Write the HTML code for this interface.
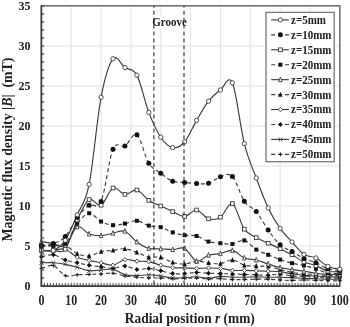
<!DOCTYPE html>
<html><head><meta charset="utf-8"><style>
html,body{margin:0;padding:0;background:#fff;width:350px;height:327px;overflow:hidden}
svg{display:block;filter:blur(0.45px)}
text{font-family:"Liberation Serif",serif;font-weight:bold;fill:#222}
</style></head><body>
<svg width="350" height="327" viewBox="0 0 350 327">
<path d="M71.24,5.8 V286.2 M101.08,5.8 V286.2 M130.92,5.8 V286.2 M160.76,5.8 V286.2 M190.60,5.8 V286.2 M220.44,5.8 V286.2 M250.28,5.8 V286.2 M280.12,5.8 V286.2 M309.96,5.8 V286.2 M41.4,246.00 H339.8 M41.4,206.00 H339.8 M41.4,166.00 H339.8 M41.4,126.00 H339.8 M41.4,86.00 H339.8 M41.4,46.00 H339.8" stroke="#e2e2e2" stroke-width="1" fill="none"/>
<rect x="41.4" y="5.8" width="298.4" height="280.4" fill="none" stroke="#6a6a6a" stroke-width="1.5"/>
<rect x="152" y="15" width="35" height="12" fill="#fff"/>
<text transform="translate(169.6,25.7) scale(1,1.15)" text-anchor="middle" font-size="11">Groove</text>
<path d="M41.40,268.40 C43.39,267.93 49.36,264.40 53.34,265.60 C57.31,266.80 61.29,274.07 65.27,275.60 C69.25,277.13 73.23,275.00 77.21,274.80 C81.19,274.60 85.17,274.53 89.14,274.40 C93.12,274.27 97.10,274.20 101.08,274.00 C105.06,273.80 109.04,272.87 113.02,273.20 C116.99,273.53 120.97,275.33 124.95,276.00 C128.93,276.67 132.91,276.87 136.89,277.20 C140.87,277.53 144.85,277.87 148.82,278.00 C152.80,278.13 156.78,277.87 160.76,278.00 C164.74,278.13 168.72,278.73 172.70,278.80 C176.67,278.87 180.65,278.53 184.63,278.40 C188.61,278.27 192.59,277.93 196.57,278.00 C200.55,278.07 204.53,278.67 208.50,278.80 C212.48,278.93 216.46,278.67 220.44,278.80 C224.42,278.93 228.40,279.47 232.38,279.60 C236.35,279.73 240.33,279.67 244.31,279.60 C248.29,279.53 252.27,279.27 256.25,279.20 C260.23,279.13 264.21,279.07 268.18,279.20 C272.16,279.33 276.14,279.80 280.12,280.00 C284.10,280.20 288.08,280.40 292.06,280.40 C296.03,280.40 300.01,280.00 303.99,280.00 C307.97,280.00 311.95,280.27 315.93,280.40 C319.91,280.53 323.89,280.73 327.86,280.80 C331.84,280.87 337.81,280.80 339.80,280.80" stroke="#3c3c3c" stroke-width="1.15" fill="none" stroke-dasharray="4,2.9"/>
<path d="M41.40,262.80 C43.39,262.80 49.36,262.53 53.34,262.80 C57.31,263.07 61.29,263.67 65.27,264.40 C69.25,265.13 73.23,266.13 77.21,267.20 C81.19,268.27 85.17,270.33 89.14,270.80 C93.12,271.27 97.10,270.27 101.08,270.00 C105.06,269.73 109.04,268.40 113.02,269.20 C116.99,270.00 120.97,273.73 124.95,274.80 C128.93,275.87 132.91,275.60 136.89,275.60 C140.87,275.60 144.85,274.73 148.82,274.80 C152.80,274.87 156.78,275.47 160.76,276.00 C164.74,276.53 168.72,277.73 172.70,278.00 C176.67,278.27 180.65,277.80 184.63,277.60 C188.61,277.40 192.59,276.67 196.57,276.80 C200.55,276.93 204.53,278.47 208.50,278.40 C212.48,278.33 216.46,276.60 220.44,276.40 C224.42,276.20 228.40,277.07 232.38,277.20 C236.35,277.33 240.33,277.27 244.31,277.20 C248.29,277.13 252.27,276.80 256.25,276.80 C260.23,276.80 264.21,277.13 268.18,277.20 C272.16,277.27 276.14,277.13 280.12,277.20 C284.10,277.27 288.08,277.40 292.06,277.60 C296.03,277.80 300.01,278.20 303.99,278.40 C307.97,278.60 311.95,278.67 315.93,278.80 C319.91,278.93 323.89,279.13 327.86,279.20 C331.84,279.27 337.81,279.20 339.80,279.20" stroke="#3c3c3c" stroke-width="1.15" fill="none"/>
<path d="M41.40,256.80 C43.39,256.47 49.36,254.27 53.34,254.80 C57.31,255.33 61.29,258.67 65.27,260.00 C69.25,261.33 73.23,261.93 77.21,262.80 C81.19,263.67 85.17,264.53 89.14,265.20 C93.12,265.87 97.10,266.27 101.08,266.80 C105.06,267.33 109.04,268.53 113.02,268.40 C116.99,268.27 120.97,265.80 124.95,266.00 C128.93,266.20 132.91,269.20 136.89,269.60 C140.87,270.00 144.85,268.20 148.82,268.40 C152.80,268.60 156.78,269.93 160.76,270.80 C164.74,271.67 168.72,273.13 172.70,273.60 C176.67,274.07 180.65,273.80 184.63,273.60 C188.61,273.40 192.59,272.47 196.57,272.40 C200.55,272.33 204.53,273.00 208.50,273.20 C212.48,273.40 216.46,273.47 220.44,273.60 C224.42,273.73 228.40,273.87 232.38,274.00 C236.35,274.13 240.33,274.27 244.31,274.40 C248.29,274.53 252.27,274.67 256.25,274.80 C260.23,274.93 264.21,275.33 268.18,275.20 C272.16,275.07 276.14,273.87 280.12,274.00 C284.10,274.13 288.08,275.60 292.06,276.00 C296.03,276.40 300.01,276.20 303.99,276.40 C307.97,276.60 311.95,276.93 315.93,277.20 C319.91,277.47 323.89,277.87 327.86,278.00 C331.84,278.13 337.81,278.00 339.80,278.00" stroke="#3c3c3c" stroke-width="1.15" fill="none" stroke-dasharray="4,2.9"/>
<path d="M41.40,250.80 C43.39,250.73 49.36,250.67 53.34,250.40 C57.31,250.13 61.29,248.07 65.27,249.20 C69.25,250.33 73.23,255.33 77.21,257.20 C81.19,259.07 85.17,259.47 89.14,260.40 C93.12,261.33 97.10,262.00 101.08,262.80 C105.06,263.60 109.04,265.73 113.02,265.20 C116.99,264.67 120.97,260.27 124.95,259.60 C128.93,258.93 132.91,260.87 136.89,261.20 C140.87,261.53 144.85,260.93 148.82,261.60 C152.80,262.27 156.78,264.20 160.76,265.20 C164.74,266.20 168.72,267.13 172.70,267.60 C176.67,268.07 180.65,267.87 184.63,268.00 C188.61,268.13 192.59,268.40 196.57,268.40 C200.55,268.40 204.53,268.00 208.50,268.00 C212.48,268.00 216.46,268.00 220.44,268.40 C224.42,268.80 228.40,270.07 232.38,270.40 C236.35,270.73 240.33,270.33 244.31,270.40 C248.29,270.47 252.27,270.67 256.25,270.80 C260.23,270.93 264.21,271.07 268.18,271.20 C272.16,271.33 276.14,271.13 280.12,271.60 C284.10,272.07 288.08,273.40 292.06,274.00 C296.03,274.60 300.01,274.87 303.99,275.20 C307.97,275.53 311.95,275.73 315.93,276.00 C319.91,276.27 323.89,276.67 327.86,276.80 C331.84,276.93 337.81,276.80 339.80,276.80" stroke="#3c3c3c" stroke-width="1.15" fill="none"/>
<path d="M41.40,246.00 C43.39,245.93 49.36,245.67 53.34,245.60 C57.31,245.53 61.29,244.27 65.27,245.60 C69.25,246.93 73.23,251.87 77.21,253.60 C81.19,255.33 85.17,256.33 89.14,256.00 C93.12,255.67 97.10,252.53 101.08,251.60 C105.06,250.67 109.04,250.87 113.02,250.40 C116.99,249.93 120.97,248.47 124.95,248.80 C128.93,249.13 132.91,251.00 136.89,252.40 C140.87,253.80 144.85,256.40 148.82,257.20 C152.80,258.00 156.78,256.33 160.76,257.20 C164.74,258.07 168.72,261.27 172.70,262.40 C176.67,263.53 180.65,264.20 184.63,264.00 C188.61,263.80 192.59,261.40 196.57,261.20 C200.55,261.00 204.53,262.40 208.50,262.80 C212.48,263.20 216.46,264.07 220.44,263.60 C224.42,263.13 228.40,259.73 232.38,260.00 C236.35,260.27 240.33,264.20 244.31,265.20 C248.29,266.20 252.27,265.80 256.25,266.00 C260.23,266.20 264.21,265.80 268.18,266.40 C272.16,267.00 276.14,268.60 280.12,269.60 C284.10,270.60 288.08,271.67 292.06,272.40 C296.03,273.13 300.01,273.67 303.99,274.00 C307.97,274.33 311.95,274.13 315.93,274.40 C319.91,274.67 323.89,275.40 327.86,275.60 C331.84,275.80 337.81,275.60 339.80,275.60" stroke="#3c3c3c" stroke-width="1.15" fill="none" stroke-dasharray="4,2.9"/>
<path d="M41.40,241.60 C43.39,241.93 49.36,242.87 53.34,243.60 C57.31,244.33 61.29,248.80 65.27,246.00 C69.25,243.20 73.23,228.80 77.21,226.80 C81.19,224.80 85.17,232.53 89.14,234.00 C93.12,235.47 97.10,235.73 101.08,235.60 C105.06,235.47 109.04,233.93 113.02,233.20 C116.99,232.47 120.97,229.73 124.95,231.20 C128.93,232.67 132.91,239.13 136.89,242.00 C140.87,244.87 144.85,247.27 148.82,248.40 C152.80,249.53 156.78,248.60 160.76,248.80 C164.74,249.00 168.72,249.67 172.70,249.60 C176.67,249.53 180.65,246.47 184.63,248.40 C188.61,250.33 192.59,260.07 196.57,261.20 C200.55,262.33 204.53,256.47 208.50,255.20 C212.48,253.93 216.46,254.40 220.44,253.60 C224.42,252.80 228.40,249.67 232.38,250.40 C236.35,251.13 240.33,256.40 244.31,258.00 C248.29,259.60 252.27,259.00 256.25,260.00 C260.23,261.00 264.21,262.73 268.18,264.00 C272.16,265.27 276.14,266.67 280.12,267.60 C284.10,268.53 288.08,269.00 292.06,269.60 C296.03,270.20 300.01,270.60 303.99,271.20 C307.97,271.80 311.95,272.67 315.93,273.20 C319.91,273.73 323.89,274.20 327.86,274.40 C331.84,274.60 337.81,274.40 339.80,274.40" stroke="#3c3c3c" stroke-width="1.15" fill="none"/>
<path d="M41.40,246.00 C43.39,245.93 49.36,246.00 53.34,245.60 C57.31,245.20 61.29,247.27 65.27,243.60 C69.25,239.93 73.23,228.67 77.21,223.60 C81.19,218.53 85.17,213.55 89.14,213.20 C93.12,212.85 97.10,219.52 101.08,221.52 C105.06,223.52 109.04,224.85 113.02,225.20 C116.99,225.55 120.97,224.33 124.95,223.60 C128.93,222.87 132.91,220.47 136.89,220.80 C140.87,221.13 144.85,224.53 148.82,225.60 C152.80,226.67 156.78,226.07 160.76,227.20 C164.74,228.33 168.72,231.07 172.70,232.40 C176.67,233.73 180.65,234.60 184.63,235.20 C188.61,235.80 192.59,234.93 196.57,236.00 C200.55,237.07 204.53,240.40 208.50,241.60 C212.48,242.80 216.46,242.80 220.44,243.20 C224.42,243.60 228.40,244.47 232.38,244.00 C236.35,243.53 240.33,239.47 244.31,240.40 C248.29,241.33 252.27,247.20 256.25,249.60 C260.23,252.00 264.21,253.13 268.18,254.80 C272.16,256.47 276.14,258.20 280.12,259.60 C284.10,261.00 288.08,262.20 292.06,263.20 C296.03,264.20 300.01,264.67 303.99,265.60 C307.97,266.53 311.95,267.53 315.93,268.80 C319.91,270.07 323.89,272.47 327.86,273.20 C331.84,273.93 337.81,273.20 339.80,273.20" stroke="#3c3c3c" stroke-width="1.15" fill="none" stroke-dasharray="4,2.9"/>
<path d="M41.40,250.40 C43.39,250.40 49.36,250.60 53.34,250.40 C57.31,250.20 61.29,254.27 65.27,249.20 C69.25,244.13 73.23,228.27 77.21,220.00 C81.19,211.73 85.17,202.07 89.14,199.60 C93.12,197.13 97.10,207.13 101.08,205.20 C105.06,203.27 109.04,189.80 113.02,188.00 C116.99,186.20 120.97,194.07 124.95,194.40 C128.93,194.73 132.91,189.00 136.89,190.00 C140.87,191.00 144.85,197.73 148.82,200.40 C152.80,203.07 156.78,204.13 160.76,206.00 C164.74,207.87 168.72,209.87 172.70,211.60 C176.67,213.33 180.65,216.67 184.63,216.40 C188.61,216.13 192.59,209.60 196.57,210.00 C200.55,210.40 204.53,217.60 208.50,218.80 C212.48,220.00 216.46,219.73 220.44,217.20 C224.42,214.67 228.40,201.60 232.38,203.60 C236.35,205.60 240.33,223.53 244.31,229.20 C248.29,234.87 252.27,235.27 256.25,237.60 C260.23,239.93 264.21,241.33 268.18,243.20 C272.16,245.07 276.14,246.87 280.12,248.80 C284.10,250.73 288.08,252.60 292.06,254.80 C296.03,257.00 300.01,260.20 303.99,262.00 C307.97,263.80 311.95,264.07 315.93,265.60 C319.91,267.13 323.89,270.20 327.86,271.20 C331.84,272.20 337.81,271.53 339.80,271.60" stroke="#3c3c3c" stroke-width="1.15" fill="none"/>
<path d="M41.40,245.60 C43.39,245.27 49.36,245.13 53.34,243.60 C57.31,242.07 61.29,240.73 65.27,236.40 C69.25,232.07 73.23,222.80 77.21,217.60 C81.19,212.40 85.17,207.87 89.14,205.20 C93.12,202.53 97.10,210.93 101.08,201.60 C105.06,192.27 109.04,158.47 113.02,149.20 C116.99,139.93 120.97,148.40 124.95,146.00 C128.93,143.60 132.91,131.93 136.89,134.80 C140.87,137.67 144.85,156.80 148.82,163.20 C152.80,169.60 156.78,170.20 160.76,173.20 C164.74,176.20 168.72,179.67 172.70,181.20 C176.67,182.73 180.65,182.00 184.63,182.40 C188.61,182.80 192.59,183.47 196.57,183.60 C200.55,183.73 204.53,184.33 208.50,183.20 C212.48,182.07 216.46,177.93 220.44,176.80 C224.42,175.67 228.40,172.33 232.38,176.40 C236.35,180.47 240.33,195.33 244.31,201.20 C248.29,207.07 252.27,206.80 256.25,211.60 C260.23,216.40 264.21,224.47 268.18,230.00 C272.16,235.53 276.14,241.20 280.12,244.80 C284.10,248.40 288.08,249.33 292.06,251.60 C296.03,253.87 300.01,256.53 303.99,258.40 C307.97,260.27 311.95,261.07 315.93,262.80 C319.91,264.53 323.89,267.53 327.86,268.80 C331.84,270.07 337.81,270.13 339.80,270.40" stroke="#3c3c3c" stroke-width="1.15" fill="none" stroke-dasharray="4,2.9"/>
<path d="M41.40,250.40 C43.39,250.40 49.36,252.07 53.34,250.40 C57.31,248.73 61.29,246.33 65.27,240.40 C69.25,234.47 73.23,224.13 77.21,214.80 C81.19,205.47 85.17,204.00 89.14,184.40 C93.12,164.80 97.10,118.13 101.08,97.20 C105.06,76.27 109.04,63.73 113.02,58.80 C116.99,53.87 120.97,64.88 124.95,67.60 C128.93,70.32 132.91,67.65 136.89,75.12 C140.87,82.59 144.85,102.05 148.82,112.40 C152.80,122.75 156.78,131.33 160.76,137.20 C164.74,143.07 168.72,146.80 172.70,147.60 C176.67,148.40 180.65,146.53 184.63,142.00 C188.61,137.47 192.59,127.20 196.57,120.40 C200.55,113.60 204.53,106.27 208.50,101.20 C212.48,96.13 216.46,93.07 220.44,90.00 C224.42,86.93 228.40,73.87 232.38,82.80 C236.35,91.73 240.33,127.73 244.31,143.60 C248.29,159.47 252.27,167.27 256.25,178.00 C260.23,188.73 264.21,199.60 268.18,208.00 C272.16,216.40 276.14,222.73 280.12,228.40 C284.10,234.07 288.08,237.67 292.06,242.00 C296.03,246.33 300.01,251.73 303.99,254.40 C307.97,257.07 311.95,256.00 315.93,258.00 C319.91,260.00 323.89,264.53 327.86,266.40 C331.84,268.27 337.81,268.73 339.80,269.20" stroke="#3c3c3c" stroke-width="1.15" fill="none"/>
<path d="M39.50,268.40 L43.30,268.40 M41.40,266.50 L41.40,270.30" stroke="#111" stroke-width="1"/>
<path d="M51.44,265.60 L55.24,265.60 M53.34,263.70 L53.34,267.50" stroke="#111" stroke-width="1"/>
<path d="M63.37,275.60 L67.17,275.60 M65.27,273.70 L65.27,277.50" stroke="#111" stroke-width="1"/>
<path d="M75.31,274.80 L79.11,274.80 M77.21,272.90 L77.21,276.70" stroke="#111" stroke-width="1"/>
<path d="M87.24,274.40 L91.04,274.40 M89.14,272.50 L89.14,276.30" stroke="#111" stroke-width="1"/>
<path d="M99.18,274.00 L102.98,274.00 M101.08,272.10 L101.08,275.90" stroke="#111" stroke-width="1"/>
<path d="M111.12,273.20 L114.92,273.20 M113.02,271.30 L113.02,275.10" stroke="#111" stroke-width="1"/>
<path d="M123.05,276.00 L126.85,276.00 M124.95,274.10 L124.95,277.90" stroke="#111" stroke-width="1"/>
<path d="M134.99,277.20 L138.79,277.20 M136.89,275.30 L136.89,279.10" stroke="#111" stroke-width="1"/>
<path d="M146.92,278.00 L150.72,278.00 M148.82,276.10 L148.82,279.90" stroke="#111" stroke-width="1"/>
<path d="M158.86,278.00 L162.66,278.00 M160.76,276.10 L160.76,279.90" stroke="#111" stroke-width="1"/>
<path d="M170.80,278.80 L174.60,278.80 M172.70,276.90 L172.70,280.70" stroke="#111" stroke-width="1"/>
<path d="M182.73,278.40 L186.53,278.40 M184.63,276.50 L184.63,280.30" stroke="#111" stroke-width="1"/>
<path d="M194.67,278.00 L198.47,278.00 M196.57,276.10 L196.57,279.90" stroke="#111" stroke-width="1"/>
<path d="M206.60,278.80 L210.40,278.80 M208.50,276.90 L208.50,280.70" stroke="#111" stroke-width="1"/>
<path d="M218.54,278.80 L222.34,278.80 M220.44,276.90 L220.44,280.70" stroke="#111" stroke-width="1"/>
<path d="M230.48,279.60 L234.28,279.60 M232.38,277.70 L232.38,281.50" stroke="#111" stroke-width="1"/>
<path d="M242.41,279.60 L246.21,279.60 M244.31,277.70 L244.31,281.50" stroke="#111" stroke-width="1"/>
<path d="M254.35,279.20 L258.15,279.20 M256.25,277.30 L256.25,281.10" stroke="#111" stroke-width="1"/>
<path d="M266.28,279.20 L270.08,279.20 M268.18,277.30 L268.18,281.10" stroke="#111" stroke-width="1"/>
<path d="M278.22,280.00 L282.02,280.00 M280.12,278.10 L280.12,281.90" stroke="#111" stroke-width="1"/>
<path d="M290.16,280.40 L293.96,280.40 M292.06,278.50 L292.06,282.30" stroke="#111" stroke-width="1"/>
<path d="M302.09,280.00 L305.89,280.00 M303.99,278.10 L303.99,281.90" stroke="#111" stroke-width="1"/>
<path d="M314.03,280.40 L317.83,280.40 M315.93,278.50 L315.93,282.30" stroke="#111" stroke-width="1"/>
<path d="M325.96,280.80 L329.76,280.80 M327.86,278.90 L327.86,282.70" stroke="#111" stroke-width="1"/>
<path d="M337.90,280.80 L341.70,280.80 M339.80,278.90 L339.80,282.70" stroke="#111" stroke-width="1"/>
<path d="M39.40,260.80 L43.40,264.80 M39.40,264.80 L43.40,260.80" stroke="#333" stroke-width="0.8"/>
<path d="M51.34,260.80 L55.34,264.80 M51.34,264.80 L55.34,260.80" stroke="#333" stroke-width="0.8"/>
<path d="M63.27,262.40 L67.27,266.40 M63.27,266.40 L67.27,262.40" stroke="#333" stroke-width="0.8"/>
<path d="M75.21,265.20 L79.21,269.20 M75.21,269.20 L79.21,265.20" stroke="#333" stroke-width="0.8"/>
<path d="M87.14,268.80 L91.14,272.80 M87.14,272.80 L91.14,268.80" stroke="#333" stroke-width="0.8"/>
<path d="M99.08,268.00 L103.08,272.00 M99.08,272.00 L103.08,268.00" stroke="#333" stroke-width="0.8"/>
<path d="M111.02,267.20 L115.02,271.20 M111.02,271.20 L115.02,267.20" stroke="#333" stroke-width="0.8"/>
<path d="M122.95,272.80 L126.95,276.80 M122.95,276.80 L126.95,272.80" stroke="#333" stroke-width="0.8"/>
<path d="M134.89,273.60 L138.89,277.60 M134.89,277.60 L138.89,273.60" stroke="#333" stroke-width="0.8"/>
<path d="M146.82,272.80 L150.82,276.80 M146.82,276.80 L150.82,272.80" stroke="#333" stroke-width="0.8"/>
<path d="M158.76,274.00 L162.76,278.00 M158.76,278.00 L162.76,274.00" stroke="#333" stroke-width="0.8"/>
<path d="M170.70,276.00 L174.70,280.00 M170.70,280.00 L174.70,276.00" stroke="#333" stroke-width="0.8"/>
<path d="M182.63,275.60 L186.63,279.60 M182.63,279.60 L186.63,275.60" stroke="#333" stroke-width="0.8"/>
<path d="M194.57,274.80 L198.57,278.80 M194.57,278.80 L198.57,274.80" stroke="#333" stroke-width="0.8"/>
<path d="M206.50,276.40 L210.50,280.40 M206.50,280.40 L210.50,276.40" stroke="#333" stroke-width="0.8"/>
<path d="M218.44,274.40 L222.44,278.40 M218.44,278.40 L222.44,274.40" stroke="#333" stroke-width="0.8"/>
<path d="M230.38,275.20 L234.38,279.20 M230.38,279.20 L234.38,275.20" stroke="#333" stroke-width="0.8"/>
<path d="M242.31,275.20 L246.31,279.20 M242.31,279.20 L246.31,275.20" stroke="#333" stroke-width="0.8"/>
<path d="M254.25,274.80 L258.25,278.80 M254.25,278.80 L258.25,274.80" stroke="#333" stroke-width="0.8"/>
<path d="M266.18,275.20 L270.18,279.20 M266.18,279.20 L270.18,275.20" stroke="#333" stroke-width="0.8"/>
<path d="M278.12,275.20 L282.12,279.20 M278.12,279.20 L282.12,275.20" stroke="#333" stroke-width="0.8"/>
<path d="M290.06,275.60 L294.06,279.60 M290.06,279.60 L294.06,275.60" stroke="#333" stroke-width="0.8"/>
<path d="M301.99,276.40 L305.99,280.40 M301.99,280.40 L305.99,276.40" stroke="#333" stroke-width="0.8"/>
<path d="M313.93,276.80 L317.93,280.80 M313.93,280.80 L317.93,276.80" stroke="#333" stroke-width="0.8"/>
<path d="M325.86,277.20 L329.86,281.20 M325.86,281.20 L329.86,277.20" stroke="#333" stroke-width="0.8"/>
<path d="M337.80,277.20 L341.80,281.20 M337.80,281.20 L341.80,277.20" stroke="#333" stroke-width="0.8"/>
<polygon points="41.40,254.30 43.70,256.80 41.40,259.30 39.10,256.80" fill="#111"/>
<polygon points="53.34,252.30 55.64,254.80 53.34,257.30 51.04,254.80" fill="#111"/>
<polygon points="65.27,257.50 67.57,260.00 65.27,262.50 62.97,260.00" fill="#111"/>
<polygon points="77.21,260.30 79.51,262.80 77.21,265.30 74.91,262.80" fill="#111"/>
<polygon points="89.14,262.70 91.44,265.20 89.14,267.70 86.84,265.20" fill="#111"/>
<polygon points="101.08,264.30 103.38,266.80 101.08,269.30 98.78,266.80" fill="#111"/>
<polygon points="113.02,265.90 115.32,268.40 113.02,270.90 110.72,268.40" fill="#111"/>
<polygon points="124.95,263.50 127.25,266.00 124.95,268.50 122.65,266.00" fill="#111"/>
<polygon points="136.89,267.10 139.19,269.60 136.89,272.10 134.59,269.60" fill="#111"/>
<polygon points="148.82,265.90 151.12,268.40 148.82,270.90 146.52,268.40" fill="#111"/>
<polygon points="160.76,268.30 163.06,270.80 160.76,273.30 158.46,270.80" fill="#111"/>
<polygon points="172.70,271.10 175.00,273.60 172.70,276.10 170.40,273.60" fill="#111"/>
<polygon points="184.63,271.10 186.93,273.60 184.63,276.10 182.33,273.60" fill="#111"/>
<polygon points="196.57,269.90 198.87,272.40 196.57,274.90 194.27,272.40" fill="#111"/>
<polygon points="208.50,270.70 210.80,273.20 208.50,275.70 206.20,273.20" fill="#111"/>
<polygon points="220.44,271.10 222.74,273.60 220.44,276.10 218.14,273.60" fill="#111"/>
<polygon points="232.38,271.50 234.68,274.00 232.38,276.50 230.08,274.00" fill="#111"/>
<polygon points="244.31,271.90 246.61,274.40 244.31,276.90 242.01,274.40" fill="#111"/>
<polygon points="256.25,272.30 258.55,274.80 256.25,277.30 253.95,274.80" fill="#111"/>
<polygon points="268.18,272.70 270.48,275.20 268.18,277.70 265.88,275.20" fill="#111"/>
<polygon points="280.12,271.50 282.42,274.00 280.12,276.50 277.82,274.00" fill="#111"/>
<polygon points="292.06,273.50 294.36,276.00 292.06,278.50 289.76,276.00" fill="#111"/>
<polygon points="303.99,273.90 306.29,276.40 303.99,278.90 301.69,276.40" fill="#111"/>
<polygon points="315.93,274.70 318.23,277.20 315.93,279.70 313.63,277.20" fill="#111"/>
<polygon points="327.86,275.50 330.16,278.00 327.86,280.50 325.56,278.00" fill="#111"/>
<polygon points="339.80,275.50 342.10,278.00 339.80,280.50 337.50,278.00" fill="#111"/>
<polygon points="41.40,248.60 43.40,250.80 41.40,253.00 39.40,250.80" fill="#fff" stroke="#3c3c3c" stroke-width="0.9"/>
<polygon points="53.34,248.20 55.34,250.40 53.34,252.60 51.34,250.40" fill="#fff" stroke="#3c3c3c" stroke-width="0.9"/>
<polygon points="65.27,247.00 67.27,249.20 65.27,251.40 63.27,249.20" fill="#fff" stroke="#3c3c3c" stroke-width="0.9"/>
<polygon points="77.21,255.00 79.21,257.20 77.21,259.40 75.21,257.20" fill="#fff" stroke="#3c3c3c" stroke-width="0.9"/>
<polygon points="89.14,258.20 91.14,260.40 89.14,262.60 87.14,260.40" fill="#fff" stroke="#3c3c3c" stroke-width="0.9"/>
<polygon points="101.08,260.60 103.08,262.80 101.08,265.00 99.08,262.80" fill="#fff" stroke="#3c3c3c" stroke-width="0.9"/>
<polygon points="113.02,263.00 115.02,265.20 113.02,267.40 111.02,265.20" fill="#fff" stroke="#3c3c3c" stroke-width="0.9"/>
<polygon points="124.95,257.40 126.95,259.60 124.95,261.80 122.95,259.60" fill="#fff" stroke="#3c3c3c" stroke-width="0.9"/>
<polygon points="136.89,259.00 138.89,261.20 136.89,263.40 134.89,261.20" fill="#fff" stroke="#3c3c3c" stroke-width="0.9"/>
<polygon points="148.82,259.40 150.82,261.60 148.82,263.80 146.82,261.60" fill="#fff" stroke="#3c3c3c" stroke-width="0.9"/>
<polygon points="160.76,263.00 162.76,265.20 160.76,267.40 158.76,265.20" fill="#fff" stroke="#3c3c3c" stroke-width="0.9"/>
<polygon points="172.70,265.40 174.70,267.60 172.70,269.80 170.70,267.60" fill="#fff" stroke="#3c3c3c" stroke-width="0.9"/>
<polygon points="184.63,265.80 186.63,268.00 184.63,270.20 182.63,268.00" fill="#fff" stroke="#3c3c3c" stroke-width="0.9"/>
<polygon points="196.57,266.20 198.57,268.40 196.57,270.60 194.57,268.40" fill="#fff" stroke="#3c3c3c" stroke-width="0.9"/>
<polygon points="208.50,265.80 210.50,268.00 208.50,270.20 206.50,268.00" fill="#fff" stroke="#3c3c3c" stroke-width="0.9"/>
<polygon points="220.44,266.20 222.44,268.40 220.44,270.60 218.44,268.40" fill="#fff" stroke="#3c3c3c" stroke-width="0.9"/>
<polygon points="232.38,268.20 234.38,270.40 232.38,272.60 230.38,270.40" fill="#fff" stroke="#3c3c3c" stroke-width="0.9"/>
<polygon points="244.31,268.20 246.31,270.40 244.31,272.60 242.31,270.40" fill="#fff" stroke="#3c3c3c" stroke-width="0.9"/>
<polygon points="256.25,268.60 258.25,270.80 256.25,273.00 254.25,270.80" fill="#fff" stroke="#3c3c3c" stroke-width="0.9"/>
<polygon points="268.18,269.00 270.18,271.20 268.18,273.40 266.18,271.20" fill="#fff" stroke="#3c3c3c" stroke-width="0.9"/>
<polygon points="280.12,269.40 282.12,271.60 280.12,273.80 278.12,271.60" fill="#fff" stroke="#3c3c3c" stroke-width="0.9"/>
<polygon points="292.06,271.80 294.06,274.00 292.06,276.20 290.06,274.00" fill="#fff" stroke="#3c3c3c" stroke-width="0.9"/>
<polygon points="303.99,273.00 305.99,275.20 303.99,277.40 301.99,275.20" fill="#fff" stroke="#3c3c3c" stroke-width="0.9"/>
<polygon points="315.93,273.80 317.93,276.00 315.93,278.20 313.93,276.00" fill="#fff" stroke="#3c3c3c" stroke-width="0.9"/>
<polygon points="327.86,274.60 329.86,276.80 327.86,279.00 325.86,276.80" fill="#fff" stroke="#3c3c3c" stroke-width="0.9"/>
<polygon points="339.80,274.60 341.80,276.80 339.80,279.00 337.80,276.80" fill="#fff" stroke="#3c3c3c" stroke-width="0.9"/>
<polygon points="41.40,243.10 43.60,248.20 39.20,248.20" fill="#111"/>
<polygon points="53.34,242.70 55.54,247.80 51.14,247.80" fill="#111"/>
<polygon points="65.27,242.70 67.47,247.80 63.07,247.80" fill="#111"/>
<polygon points="77.21,250.70 79.41,255.80 75.01,255.80" fill="#111"/>
<polygon points="89.14,253.10 91.34,258.20 86.94,258.20" fill="#111"/>
<polygon points="101.08,248.70 103.28,253.80 98.88,253.80" fill="#111"/>
<polygon points="113.02,247.50 115.22,252.60 110.82,252.60" fill="#111"/>
<polygon points="124.95,245.90 127.15,251.00 122.75,251.00" fill="#111"/>
<polygon points="136.89,249.50 139.09,254.60 134.69,254.60" fill="#111"/>
<polygon points="148.82,254.30 151.02,259.40 146.62,259.40" fill="#111"/>
<polygon points="160.76,254.30 162.96,259.40 158.56,259.40" fill="#111"/>
<polygon points="172.70,259.50 174.90,264.60 170.50,264.60" fill="#111"/>
<polygon points="184.63,261.10 186.83,266.20 182.43,266.20" fill="#111"/>
<polygon points="196.57,258.30 198.77,263.40 194.37,263.40" fill="#111"/>
<polygon points="208.50,259.90 210.70,265.00 206.30,265.00" fill="#111"/>
<polygon points="220.44,260.70 222.64,265.80 218.24,265.80" fill="#111"/>
<polygon points="232.38,257.10 234.58,262.20 230.18,262.20" fill="#111"/>
<polygon points="244.31,262.30 246.51,267.40 242.11,267.40" fill="#111"/>
<polygon points="256.25,263.10 258.45,268.20 254.05,268.20" fill="#111"/>
<polygon points="268.18,263.50 270.38,268.60 265.98,268.60" fill="#111"/>
<polygon points="280.12,266.70 282.32,271.80 277.92,271.80" fill="#111"/>
<polygon points="292.06,269.50 294.26,274.60 289.86,274.60" fill="#111"/>
<polygon points="303.99,271.10 306.19,276.20 301.79,276.20" fill="#111"/>
<polygon points="315.93,271.50 318.13,276.60 313.73,276.60" fill="#111"/>
<polygon points="327.86,272.70 330.06,277.80 325.66,277.80" fill="#111"/>
<polygon points="339.80,272.70 342.00,277.80 337.60,277.80" fill="#111"/>
<polygon points="41.40,239.00 43.15,243.60 39.65,243.60" fill="#fff" stroke="#3c3c3c" stroke-width="0.9"/>
<polygon points="53.34,241.00 55.09,245.60 51.59,245.60" fill="#fff" stroke="#3c3c3c" stroke-width="0.9"/>
<polygon points="65.27,243.40 67.02,248.00 63.52,248.00" fill="#fff" stroke="#3c3c3c" stroke-width="0.9"/>
<polygon points="77.21,224.20 78.96,228.80 75.46,228.80" fill="#fff" stroke="#3c3c3c" stroke-width="0.9"/>
<polygon points="89.14,231.40 90.89,236.00 87.39,236.00" fill="#fff" stroke="#3c3c3c" stroke-width="0.9"/>
<polygon points="101.08,233.00 102.83,237.60 99.33,237.60" fill="#fff" stroke="#3c3c3c" stroke-width="0.9"/>
<polygon points="113.02,230.60 114.77,235.20 111.27,235.20" fill="#fff" stroke="#3c3c3c" stroke-width="0.9"/>
<polygon points="124.95,228.60 126.70,233.20 123.20,233.20" fill="#fff" stroke="#3c3c3c" stroke-width="0.9"/>
<polygon points="136.89,239.40 138.64,244.00 135.14,244.00" fill="#fff" stroke="#3c3c3c" stroke-width="0.9"/>
<polygon points="148.82,245.80 150.57,250.40 147.07,250.40" fill="#fff" stroke="#3c3c3c" stroke-width="0.9"/>
<polygon points="160.76,246.20 162.51,250.80 159.01,250.80" fill="#fff" stroke="#3c3c3c" stroke-width="0.9"/>
<polygon points="172.70,247.00 174.45,251.60 170.95,251.60" fill="#fff" stroke="#3c3c3c" stroke-width="0.9"/>
<polygon points="184.63,245.80 186.38,250.40 182.88,250.40" fill="#fff" stroke="#3c3c3c" stroke-width="0.9"/>
<polygon points="196.57,258.60 198.32,263.20 194.82,263.20" fill="#fff" stroke="#3c3c3c" stroke-width="0.9"/>
<polygon points="208.50,252.60 210.25,257.20 206.75,257.20" fill="#fff" stroke="#3c3c3c" stroke-width="0.9"/>
<polygon points="220.44,251.00 222.19,255.60 218.69,255.60" fill="#fff" stroke="#3c3c3c" stroke-width="0.9"/>
<polygon points="232.38,247.80 234.13,252.40 230.63,252.40" fill="#fff" stroke="#3c3c3c" stroke-width="0.9"/>
<polygon points="244.31,255.40 246.06,260.00 242.56,260.00" fill="#fff" stroke="#3c3c3c" stroke-width="0.9"/>
<polygon points="256.25,257.40 258.00,262.00 254.50,262.00" fill="#fff" stroke="#3c3c3c" stroke-width="0.9"/>
<polygon points="268.18,261.40 269.93,266.00 266.43,266.00" fill="#fff" stroke="#3c3c3c" stroke-width="0.9"/>
<polygon points="280.12,265.00 281.87,269.60 278.37,269.60" fill="#fff" stroke="#3c3c3c" stroke-width="0.9"/>
<polygon points="292.06,267.00 293.81,271.60 290.31,271.60" fill="#fff" stroke="#3c3c3c" stroke-width="0.9"/>
<polygon points="303.99,268.60 305.74,273.20 302.24,273.20" fill="#fff" stroke="#3c3c3c" stroke-width="0.9"/>
<polygon points="315.93,270.60 317.68,275.20 314.18,275.20" fill="#fff" stroke="#3c3c3c" stroke-width="0.9"/>
<polygon points="327.86,271.80 329.61,276.40 326.11,276.40" fill="#fff" stroke="#3c3c3c" stroke-width="0.9"/>
<polygon points="339.80,271.80 341.55,276.40 338.05,276.40" fill="#fff" stroke="#3c3c3c" stroke-width="0.9"/>
<rect x="39.40" y="244.00" width="4.00" height="4.00" fill="#111"/>
<rect x="51.34" y="243.60" width="4.00" height="4.00" fill="#111"/>
<rect x="63.27" y="241.60" width="4.00" height="4.00" fill="#111"/>
<rect x="75.21" y="221.60" width="4.00" height="4.00" fill="#111"/>
<rect x="87.14" y="211.20" width="4.00" height="4.00" fill="#111"/>
<rect x="99.08" y="219.52" width="4.00" height="4.00" fill="#111"/>
<rect x="111.02" y="223.20" width="4.00" height="4.00" fill="#111"/>
<rect x="122.95" y="221.60" width="4.00" height="4.00" fill="#111"/>
<rect x="134.89" y="218.80" width="4.00" height="4.00" fill="#111"/>
<rect x="146.82" y="223.60" width="4.00" height="4.00" fill="#111"/>
<rect x="158.76" y="225.20" width="4.00" height="4.00" fill="#111"/>
<rect x="170.70" y="230.40" width="4.00" height="4.00" fill="#111"/>
<rect x="182.63" y="233.20" width="4.00" height="4.00" fill="#111"/>
<rect x="194.57" y="234.00" width="4.00" height="4.00" fill="#111"/>
<rect x="206.50" y="239.60" width="4.00" height="4.00" fill="#111"/>
<rect x="218.44" y="241.20" width="4.00" height="4.00" fill="#111"/>
<rect x="230.38" y="242.00" width="4.00" height="4.00" fill="#111"/>
<rect x="242.31" y="238.40" width="4.00" height="4.00" fill="#111"/>
<rect x="254.25" y="247.60" width="4.00" height="4.00" fill="#111"/>
<rect x="266.18" y="252.80" width="4.00" height="4.00" fill="#111"/>
<rect x="278.12" y="257.60" width="4.00" height="4.00" fill="#111"/>
<rect x="290.06" y="261.20" width="4.00" height="4.00" fill="#111"/>
<rect x="301.99" y="263.60" width="4.00" height="4.00" fill="#111"/>
<rect x="313.93" y="266.80" width="4.00" height="4.00" fill="#111"/>
<rect x="325.86" y="271.20" width="4.00" height="4.00" fill="#111"/>
<rect x="337.80" y="271.20" width="4.00" height="4.00" fill="#111"/>
<rect x="39.55" y="248.55" width="3.70" height="3.70" fill="#fff" stroke="#3c3c3c" stroke-width="0.9"/>
<rect x="51.49" y="248.55" width="3.70" height="3.70" fill="#fff" stroke="#3c3c3c" stroke-width="0.9"/>
<rect x="63.42" y="247.35" width="3.70" height="3.70" fill="#fff" stroke="#3c3c3c" stroke-width="0.9"/>
<rect x="75.36" y="218.15" width="3.70" height="3.70" fill="#fff" stroke="#3c3c3c" stroke-width="0.9"/>
<rect x="87.29" y="197.75" width="3.70" height="3.70" fill="#fff" stroke="#3c3c3c" stroke-width="0.9"/>
<rect x="99.23" y="203.35" width="3.70" height="3.70" fill="#fff" stroke="#3c3c3c" stroke-width="0.9"/>
<rect x="111.17" y="186.15" width="3.70" height="3.70" fill="#fff" stroke="#3c3c3c" stroke-width="0.9"/>
<rect x="123.10" y="192.55" width="3.70" height="3.70" fill="#fff" stroke="#3c3c3c" stroke-width="0.9"/>
<rect x="135.04" y="188.15" width="3.70" height="3.70" fill="#fff" stroke="#3c3c3c" stroke-width="0.9"/>
<rect x="146.97" y="198.55" width="3.70" height="3.70" fill="#fff" stroke="#3c3c3c" stroke-width="0.9"/>
<rect x="158.91" y="204.15" width="3.70" height="3.70" fill="#fff" stroke="#3c3c3c" stroke-width="0.9"/>
<rect x="170.85" y="209.75" width="3.70" height="3.70" fill="#fff" stroke="#3c3c3c" stroke-width="0.9"/>
<rect x="182.78" y="214.55" width="3.70" height="3.70" fill="#fff" stroke="#3c3c3c" stroke-width="0.9"/>
<rect x="194.72" y="208.15" width="3.70" height="3.70" fill="#fff" stroke="#3c3c3c" stroke-width="0.9"/>
<rect x="206.65" y="216.95" width="3.70" height="3.70" fill="#fff" stroke="#3c3c3c" stroke-width="0.9"/>
<rect x="218.59" y="215.35" width="3.70" height="3.70" fill="#fff" stroke="#3c3c3c" stroke-width="0.9"/>
<rect x="230.53" y="201.75" width="3.70" height="3.70" fill="#fff" stroke="#3c3c3c" stroke-width="0.9"/>
<rect x="242.46" y="227.35" width="3.70" height="3.70" fill="#fff" stroke="#3c3c3c" stroke-width="0.9"/>
<rect x="254.40" y="235.75" width="3.70" height="3.70" fill="#fff" stroke="#3c3c3c" stroke-width="0.9"/>
<rect x="266.33" y="241.35" width="3.70" height="3.70" fill="#fff" stroke="#3c3c3c" stroke-width="0.9"/>
<rect x="278.27" y="246.95" width="3.70" height="3.70" fill="#fff" stroke="#3c3c3c" stroke-width="0.9"/>
<rect x="290.21" y="252.95" width="3.70" height="3.70" fill="#fff" stroke="#3c3c3c" stroke-width="0.9"/>
<rect x="302.14" y="260.15" width="3.70" height="3.70" fill="#fff" stroke="#3c3c3c" stroke-width="0.9"/>
<rect x="314.08" y="263.75" width="3.70" height="3.70" fill="#fff" stroke="#3c3c3c" stroke-width="0.9"/>
<rect x="326.01" y="269.35" width="3.70" height="3.70" fill="#fff" stroke="#3c3c3c" stroke-width="0.9"/>
<rect x="337.95" y="269.75" width="3.70" height="3.70" fill="#fff" stroke="#3c3c3c" stroke-width="0.9"/>
<circle cx="41.40" cy="245.60" r="2.50" fill="#111"/>
<circle cx="53.34" cy="243.60" r="2.50" fill="#111"/>
<circle cx="65.27" cy="236.40" r="2.50" fill="#111"/>
<circle cx="77.21" cy="217.60" r="2.50" fill="#111"/>
<circle cx="89.14" cy="205.20" r="2.50" fill="#111"/>
<circle cx="101.08" cy="201.60" r="2.50" fill="#111"/>
<circle cx="113.02" cy="149.20" r="2.50" fill="#111"/>
<circle cx="124.95" cy="146.00" r="2.50" fill="#111"/>
<circle cx="136.89" cy="134.80" r="2.50" fill="#111"/>
<circle cx="148.82" cy="163.20" r="2.50" fill="#111"/>
<circle cx="160.76" cy="173.20" r="2.50" fill="#111"/>
<circle cx="172.70" cy="181.20" r="2.50" fill="#111"/>
<circle cx="184.63" cy="182.40" r="2.50" fill="#111"/>
<circle cx="196.57" cy="183.60" r="2.50" fill="#111"/>
<circle cx="208.50" cy="183.20" r="2.50" fill="#111"/>
<circle cx="220.44" cy="176.80" r="2.50" fill="#111"/>
<circle cx="232.38" cy="176.40" r="2.50" fill="#111"/>
<circle cx="244.31" cy="201.20" r="2.50" fill="#111"/>
<circle cx="256.25" cy="211.60" r="2.50" fill="#111"/>
<circle cx="268.18" cy="230.00" r="2.50" fill="#111"/>
<circle cx="280.12" cy="244.80" r="2.50" fill="#111"/>
<circle cx="292.06" cy="251.60" r="2.50" fill="#111"/>
<circle cx="303.99" cy="258.40" r="2.50" fill="#111"/>
<circle cx="315.93" cy="262.80" r="2.50" fill="#111"/>
<circle cx="327.86" cy="268.80" r="2.50" fill="#111"/>
<circle cx="339.80" cy="270.40" r="2.50" fill="#111"/>
<circle cx="41.40" cy="250.40" r="2.15" fill="#fff" stroke="#3c3c3c" stroke-width="0.9"/>
<circle cx="53.34" cy="250.40" r="2.15" fill="#fff" stroke="#3c3c3c" stroke-width="0.9"/>
<circle cx="65.27" cy="240.40" r="2.15" fill="#fff" stroke="#3c3c3c" stroke-width="0.9"/>
<circle cx="77.21" cy="214.80" r="2.15" fill="#fff" stroke="#3c3c3c" stroke-width="0.9"/>
<circle cx="89.14" cy="184.40" r="2.15" fill="#fff" stroke="#3c3c3c" stroke-width="0.9"/>
<circle cx="101.08" cy="97.20" r="2.15" fill="#fff" stroke="#3c3c3c" stroke-width="0.9"/>
<circle cx="113.02" cy="58.80" r="2.15" fill="#fff" stroke="#3c3c3c" stroke-width="0.9"/>
<circle cx="124.95" cy="67.60" r="2.15" fill="#fff" stroke="#3c3c3c" stroke-width="0.9"/>
<circle cx="136.89" cy="75.12" r="2.15" fill="#fff" stroke="#3c3c3c" stroke-width="0.9"/>
<circle cx="148.82" cy="112.40" r="2.15" fill="#fff" stroke="#3c3c3c" stroke-width="0.9"/>
<circle cx="160.76" cy="137.20" r="2.15" fill="#fff" stroke="#3c3c3c" stroke-width="0.9"/>
<circle cx="172.70" cy="147.60" r="2.15" fill="#fff" stroke="#3c3c3c" stroke-width="0.9"/>
<circle cx="184.63" cy="142.00" r="2.15" fill="#fff" stroke="#3c3c3c" stroke-width="0.9"/>
<circle cx="196.57" cy="120.40" r="2.15" fill="#fff" stroke="#3c3c3c" stroke-width="0.9"/>
<circle cx="208.50" cy="101.20" r="2.15" fill="#fff" stroke="#3c3c3c" stroke-width="0.9"/>
<circle cx="220.44" cy="90.00" r="2.15" fill="#fff" stroke="#3c3c3c" stroke-width="0.9"/>
<circle cx="232.38" cy="82.80" r="2.15" fill="#fff" stroke="#3c3c3c" stroke-width="0.9"/>
<circle cx="244.31" cy="143.60" r="2.15" fill="#fff" stroke="#3c3c3c" stroke-width="0.9"/>
<circle cx="256.25" cy="178.00" r="2.15" fill="#fff" stroke="#3c3c3c" stroke-width="0.9"/>
<circle cx="268.18" cy="208.00" r="2.15" fill="#fff" stroke="#3c3c3c" stroke-width="0.9"/>
<circle cx="280.12" cy="228.40" r="2.15" fill="#fff" stroke="#3c3c3c" stroke-width="0.9"/>
<circle cx="292.06" cy="242.00" r="2.15" fill="#fff" stroke="#3c3c3c" stroke-width="0.9"/>
<circle cx="303.99" cy="254.40" r="2.15" fill="#fff" stroke="#3c3c3c" stroke-width="0.9"/>
<circle cx="315.93" cy="258.00" r="2.15" fill="#fff" stroke="#3c3c3c" stroke-width="0.9"/>
<circle cx="327.86" cy="266.40" r="2.15" fill="#fff" stroke="#3c3c3c" stroke-width="0.9"/>
<circle cx="339.80" cy="269.20" r="2.15" fill="#fff" stroke="#3c3c3c" stroke-width="0.9"/>
<path d="M153.90,5.8 V286" stroke="#333" stroke-width="1.15" stroke-dasharray="4,2.92" stroke-dashoffset="1.98" fill="none"/>
<path d="M184.00,5.8 V286" stroke="#333" stroke-width="1.15" stroke-dasharray="4,2.92" stroke-dashoffset="1.98" fill="none"/>
<path d="M41.4,286.00 h3 M41.4,278.00 h3 M41.4,270.00 h3 M41.4,262.00 h3 M41.4,254.00 h3 M41.4,246.00 h3 M41.4,238.00 h3 M41.4,230.00 h3 M41.4,222.00 h3 M41.4,214.00 h3 M41.4,206.00 h3 M41.4,198.00 h3 M41.4,190.00 h3 M41.4,182.00 h3 M41.4,174.00 h3 M41.4,166.00 h3 M41.4,158.00 h3 M41.4,150.00 h3 M41.4,142.00 h3 M41.4,134.00 h3 M41.4,126.00 h3 M41.4,118.00 h3 M41.4,110.00 h3 M41.4,102.00 h3 M41.4,94.00 h3 M41.4,86.00 h3 M41.4,78.00 h3 M41.4,70.00 h3 M41.4,62.00 h3 M41.4,54.00 h3 M41.4,46.00 h3 M41.4,38.00 h3 M41.4,30.00 h3 M41.4,22.00 h3 M41.4,14.00 h3 M41.4,6.00 h3 M41.40,286.2 v-3 M44.38,286.2 v-3 M47.37,286.2 v-3 M50.35,286.2 v-3 M53.34,286.2 v-3 M56.32,286.2 v-3 M59.30,286.2 v-3 M62.29,286.2 v-3 M65.27,286.2 v-3 M68.26,286.2 v-3 M71.24,286.2 v-3 M74.22,286.2 v-3 M77.21,286.2 v-3 M80.19,286.2 v-3 M83.18,286.2 v-3 M86.16,286.2 v-3 M89.14,286.2 v-3 M92.13,286.2 v-3 M95.11,286.2 v-3 M98.10,286.2 v-3 M101.08,286.2 v-3 M104.06,286.2 v-3 M107.05,286.2 v-3 M110.03,286.2 v-3 M113.02,286.2 v-3 M116.00,286.2 v-3 M118.98,286.2 v-3 M121.97,286.2 v-3 M124.95,286.2 v-3 M127.94,286.2 v-3 M130.92,286.2 v-3 M133.90,286.2 v-3 M136.89,286.2 v-3 M139.87,286.2 v-3 M142.86,286.2 v-3 M145.84,286.2 v-3 M148.82,286.2 v-3 M151.81,286.2 v-3 M154.79,286.2 v-3 M157.78,286.2 v-3 M160.76,286.2 v-3 M163.74,286.2 v-3 M166.73,286.2 v-3 M169.71,286.2 v-3 M172.70,286.2 v-3 M175.68,286.2 v-3 M178.66,286.2 v-3 M181.65,286.2 v-3 M184.63,286.2 v-3 M187.62,286.2 v-3 M190.60,286.2 v-3 M193.58,286.2 v-3 M196.57,286.2 v-3 M199.55,286.2 v-3 M202.54,286.2 v-3 M205.52,286.2 v-3 M208.50,286.2 v-3 M211.49,286.2 v-3 M214.47,286.2 v-3 M217.46,286.2 v-3 M220.44,286.2 v-3 M223.42,286.2 v-3 M226.41,286.2 v-3 M229.39,286.2 v-3 M232.38,286.2 v-3 M235.36,286.2 v-3 M238.34,286.2 v-3 M241.33,286.2 v-3 M244.31,286.2 v-3 M247.30,286.2 v-3 M250.28,286.2 v-3 M253.26,286.2 v-3 M256.25,286.2 v-3 M259.23,286.2 v-3 M262.22,286.2 v-3 M265.20,286.2 v-3 M268.18,286.2 v-3 M271.17,286.2 v-3 M274.15,286.2 v-3 M277.14,286.2 v-3 M280.12,286.2 v-3 M283.10,286.2 v-3 M286.09,286.2 v-3 M289.07,286.2 v-3 M292.06,286.2 v-3 M295.04,286.2 v-3 M298.02,286.2 v-3 M301.01,286.2 v-3 M303.99,286.2 v-3 M306.98,286.2 v-3 M309.96,286.2 v-3 M312.94,286.2 v-3 M315.93,286.2 v-3 M318.91,286.2 v-3 M321.90,286.2 v-3 M324.88,286.2 v-3 M327.86,286.2 v-3 M330.85,286.2 v-3 M333.83,286.2 v-3 M336.82,286.2 v-3 M339.80,286.2 v-3" stroke="#333" stroke-width="1" fill="none"/>
<path d="M41.4,5.8 V286.2 H339.8" stroke="#3a3a3a" stroke-width="1.5" fill="none"/>
<text transform="translate(30.6,290.00) scale(1,1.08)" text-anchor="end" font-size="12">0</text>
<text transform="translate(30.6,250.00) scale(1,1.08)" text-anchor="end" font-size="12">5</text>
<text transform="translate(30.6,210.00) scale(1,1.08)" text-anchor="end" font-size="12">10</text>
<text transform="translate(30.6,170.00) scale(1,1.08)" text-anchor="end" font-size="12">15</text>
<text transform="translate(30.6,130.00) scale(1,1.08)" text-anchor="end" font-size="12">20</text>
<text transform="translate(30.6,90.00) scale(1,1.08)" text-anchor="end" font-size="12">25</text>
<text transform="translate(30.6,50.00) scale(1,1.08)" text-anchor="end" font-size="12">30</text>
<text transform="translate(30.6,10.00) scale(1,1.08)" text-anchor="end" font-size="12">35</text>
<text transform="translate(41.40,305.2) scale(1,1.15)" text-anchor="middle" font-size="12">0</text>
<text transform="translate(71.24,305.2) scale(1,1.15)" text-anchor="middle" font-size="12">10</text>
<text transform="translate(101.08,305.2) scale(1,1.15)" text-anchor="middle" font-size="12">20</text>
<text transform="translate(130.92,305.2) scale(1,1.15)" text-anchor="middle" font-size="12">30</text>
<text transform="translate(160.76,305.2) scale(1,1.15)" text-anchor="middle" font-size="12">40</text>
<text transform="translate(190.60,305.2) scale(1,1.15)" text-anchor="middle" font-size="12">50</text>
<text transform="translate(220.44,305.2) scale(1,1.15)" text-anchor="middle" font-size="12">60</text>
<text transform="translate(250.28,305.2) scale(1,1.15)" text-anchor="middle" font-size="12">70</text>
<text transform="translate(280.12,305.2) scale(1,1.15)" text-anchor="middle" font-size="12">80</text>
<text transform="translate(309.96,305.2) scale(1,1.15)" text-anchor="middle" font-size="12">90</text>
<text transform="translate(339.80,305.2) scale(1,1.15)" text-anchor="middle" font-size="12">100</text>
<text x="124.8" y="322.8" font-size="13.6" textLength="130" lengthAdjust="spacingAndGlyphs">Radial position <tspan font-style="italic">r</tspan> (mm)</text>
<text transform="translate(11.5,241.5) rotate(-90)" x="0" y="0" font-size="13.9">Magnetic flux density |<tspan font-style="italic">B</tspan>|&#160; (mT)</text>
<rect x="266" y="12.4" width="68.2" height="149.3" fill="#fff" stroke="#777" stroke-width="1.3"/>
<path d="M271.2,19.90 H288.8" stroke="#3c3c3c" stroke-width="1.15"/>
<circle cx="280.40" cy="19.90" r="2.15" fill="#fff" stroke="#3c3c3c" stroke-width="0.9"/>
<text transform="translate(291,23.80) scale(1,1.08)" font-size="11">z=5mm</text>
<path d="M271.2,34.84 H289" stroke="#3c3c3c" stroke-width="1.15" stroke-dasharray="4,2.9"/>
<circle cx="280.40" cy="34.84" r="2.50" fill="#111"/>
<text transform="translate(291,38.74) scale(1,1.08)" font-size="11">z=10mm</text>
<path d="M271.2,49.78 H288.8" stroke="#3c3c3c" stroke-width="1.15"/>
<rect x="278.55" y="47.93" width="3.70" height="3.70" fill="#fff" stroke="#3c3c3c" stroke-width="0.9"/>
<text transform="translate(291,53.68) scale(1,1.08)" font-size="11">z=15mm</text>
<path d="M271.2,64.72 H289" stroke="#3c3c3c" stroke-width="1.15" stroke-dasharray="4,2.9"/>
<rect x="278.40" y="62.72" width="4.00" height="4.00" fill="#111"/>
<text transform="translate(291,68.62) scale(1,1.08)" font-size="11">z=20mm</text>
<path d="M271.2,79.66 H288.8" stroke="#3c3c3c" stroke-width="1.15"/>
<polygon points="280.40,77.06 282.15,81.66 278.65,81.66" fill="#fff" stroke="#3c3c3c" stroke-width="0.9"/>
<text transform="translate(291,83.56) scale(1,1.08)" font-size="11">z=25mm</text>
<path d="M271.2,94.60 H289" stroke="#3c3c3c" stroke-width="1.15" stroke-dasharray="4,2.9"/>
<polygon points="280.40,91.70 282.60,96.80 278.20,96.80" fill="#111"/>
<text transform="translate(291,98.50) scale(1,1.08)" font-size="11">z=30mm</text>
<path d="M271.2,109.54 H288.8" stroke="#3c3c3c" stroke-width="1.15"/>
<polygon points="280.40,107.34 282.40,109.54 280.40,111.74 278.40,109.54" fill="#fff" stroke="#3c3c3c" stroke-width="0.9"/>
<text transform="translate(291,113.44) scale(1,1.08)" font-size="11">z=35mm</text>
<path d="M271.2,124.48 H289" stroke="#3c3c3c" stroke-width="1.15" stroke-dasharray="4,2.9"/>
<polygon points="280.40,121.98 282.70,124.48 280.40,126.98 278.10,124.48" fill="#111"/>
<text transform="translate(291,128.38) scale(1,1.08)" font-size="11">z=40mm</text>
<path d="M271.2,139.42 H288.8" stroke="#3c3c3c" stroke-width="1.15"/>
<path d="M278.40,137.42 L282.40,141.42 M278.40,141.42 L282.40,137.42" stroke="#333" stroke-width="0.8"/>
<text transform="translate(291,143.32) scale(1,1.08)" font-size="11">z=45mm</text>
<path d="M271.2,154.36 H289" stroke="#3c3c3c" stroke-width="1.15" stroke-dasharray="4,2.9"/>
<path d="M278.50,154.36 L282.30,154.36 M280.40,152.46 L280.40,156.26" stroke="#111" stroke-width="1"/>
<text transform="translate(291,158.26) scale(1,1.08)" font-size="11">z=50mm</text>
</svg>
</body></html>
